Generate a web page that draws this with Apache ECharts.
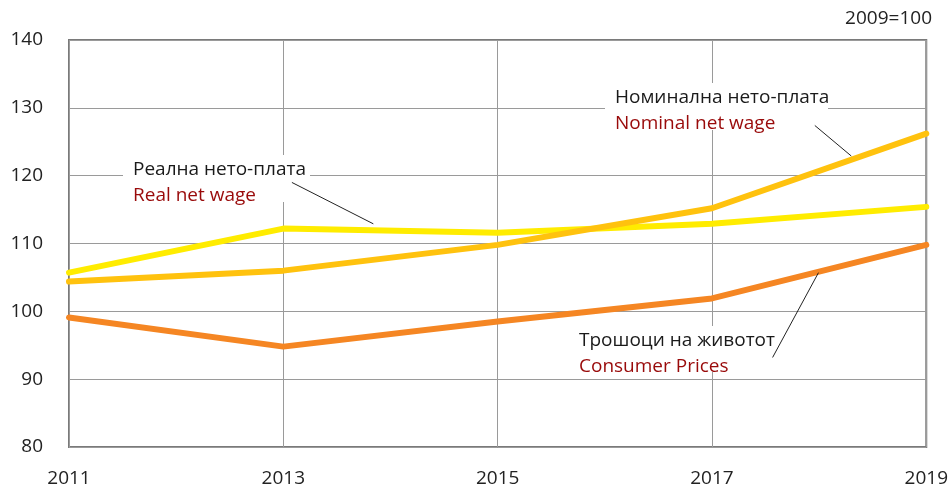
<!DOCTYPE html>
<html>
<head>
<meta charset="utf-8">
<script src="https://cdn.jsdelivr.net/npm/echarts@6/dist/echarts.min.js"></script>
<style>
  html, body { margin: 0; padding: 0; background: #fff; }
  #chart { width: 951px; height: 490px; }
</style>
</head>
<body>
<div id="chart"></div>
<script>
const years = ["2011", "2013", "2015", "2017", "2019"];
const realWage = [105.7, 112.2, 111.6, 112.9, 115.4];
const nominalWage = [104.4, 106.0, 109.8, 115.2, 126.2];
const consumerPrices = [99.1, 94.8, 98.5, 101.9, 109.8];
const yTicks = { min: 80, max: 140, interval: 10 };

// leader lines in data space: [category position, value]
const leaders = [
  [[1.04, 119.0], [1.42, 112.9]],
  [[3.48, 127.4], [3.65, 122.9]],
  [[3.497, 105.7], [3.283, 93.2]]
];

const font = "'Open Sans', 'Noto Sans', sans-serif";
const chart = echarts.init(document.getElementById("chart"));

function lineSeries(name, data, color, z) {
  return {
    name, type: "line", data, z,
    showSymbol: false, symbol: "none",
    lineStyle: { color, width: 6, cap: "round", join: "round" }
  };
}

function labelBox(x, y, w, h, top, bottom) {
  return {
    type: "group", z: 5,
    children: [
      { type: "rect", shape: { x, y, width: w, height: h }, style: { fill: "#fff" } },
      { type: "text", x: x + 10, y: y + 15, style: { text: top, font: `19px ${font}`, fill: "#1a1a1a", verticalAlign: "middle" } },
      { type: "text", x: x + 10, y: y + 41, style: { text: bottom, font: `19px ${font}`, fill: "#990a0a", verticalAlign: "middle" } }
    ]
  };
}

chart.setOption({
  animation: false,
  grid: {
    left: 69, right: 21, top: 40, bottom: 43,
    show: true, borderColor: "#7a7a7a", borderWidth: 2
  },
  xAxis: {
    type: "category", data: years, boundaryGap: false,
    axisLine: { show: false }, axisTick: { show: false },
    axisLabel: { fontFamily: font, fontSize: 19, color: "#222", margin: 22 },
    splitLine: { show: true, lineStyle: { color: "#9a9a9a", width: 1 } }
  },
  yAxis: {
    type: "value", min: yTicks.min, max: yTicks.max, interval: yTicks.interval,
    axisLine: { show: false }, axisTick: { show: false },
    axisLabel: { fontFamily: font, fontSize: 19, color: "#222", margin: 26 },
    splitLine: { lineStyle: { color: "#9a9a9a", width: 1 } }
  },
  series: [
    lineSeries("Real net wage", realWage, "#ffec00", 3),
    lineSeries("Nominal net wage", nominalWage, "#ffc20e", 4),
    lineSeries("Consumer Prices", consumerPrices, "#f58623", 4)
  ]
});

// category axis snaps to whole indices, so interpolate between neighbours
function toPixel([pos, value]) {
  const i = Math.min(Math.floor(pos), years.length - 2);
  const a = chart.convertToPixel({ gridIndex: 0 }, [i, value]);
  const b = chart.convertToPixel({ gridIndex: 0 }, [i + 1, value]);
  return [a[0] + (pos - i) * (b[0] - a[0]), a[1]];
}

const leaderGraphics = leaders.map(([a, b]) => {
  const p1 = toPixel(a);
  const p2 = toPixel(b);
  return {
    type: "line", z: 6,
    shape: { x1: p1[0], y1: p1[1], x2: p2[0], y2: p2[1] },
    style: { stroke: "#222", lineWidth: 1 }
  };
});

chart.setOption({
  graphic: [
    labelBox(123, 155, 187, 47, "Реална нето-плата", "Real net wage"),
    labelBox(605, 83, 223, 47, "Номинална нето-плата", "Nominal net wage"),
    labelBox(569, 326, 206, 46, "Трошоци на животот", "Consumer Prices"),
    {
      type: "text", right: 19, top: 9, z: 5,
      style: { text: "2009=100", font: `19px ${font}`, fill: "#222" }
    },
    ...leaderGraphics
  ]
});
</script>
</body>
</html>
